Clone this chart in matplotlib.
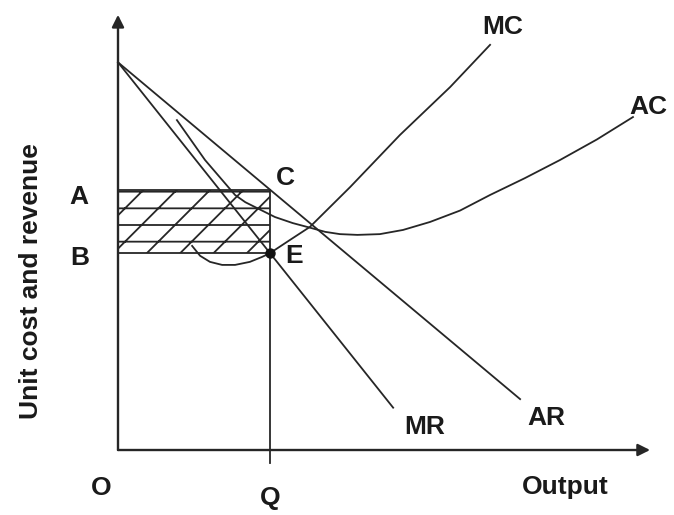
import matplotlib
matplotlib.use("Agg")
import matplotlib.pyplot as plt
from matplotlib.patches import Rectangle

plt.rcParams['font.family'] = ['Liberation Sans', 'DejaVu Sans']
plt.rcParams['hatch.linewidth'] = 1.3

# ---- data (arbitrary units) ----
price_intercept = 10.2          # where AR and MR meet the vertical axis
ar_slope = 0.8375               # AR: y = intercept - slope * x
mr_slope = 1.255                # MR: y = intercept - slope * x
ar_end_x = 10.58
mr_end_x = 7.24

q_output = 4.0                  # equilibrium output Q
price_A = 6.85                  # price OA (point C on AR)
cost_B = 5.18                   # average cost OB / point E

mc_x = [1.95, 2.16, 2.42, 2.74, 3.08, 3.47, 3.79, 4.00, 4.53, 5.05, 6.11, 7.42, 8.74, 9.79]
mc_y = [5.37, 5.11, 4.95, 4.87, 4.87, 4.95, 5.08, 5.18, 5.53, 5.87, 6.92, 8.29, 9.55, 10.66]

ac_x = [1.55, 2.29, 3.08, 3.35, 3.61, 4.13, 4.60, 5.05, 5.45, 5.84, 6.30, 6.89, 7.50, 8.21, 9.00, 9.79, 10.70, 11.63, 12.60, 13.55]
ac_y = [8.68, 7.63, 6.71, 6.52, 6.39, 6.13, 5.97, 5.85, 5.74, 5.68, 5.66, 5.68, 5.79, 6.00, 6.30, 6.71, 7.15, 7.63, 8.17, 8.76]

x_axis_end = 14.0
y_axis_end = 11.45

# ---- figure ----
fig = plt.figure(figsize=(6.74, 5.15), dpi=100)
ax = fig.add_axes([0, 0, 1, 1])
ax.set_xlim(-3.105, 14.63)
ax.set_ylim(-1.71, 11.84)
ax.axis('off')

line_col = '#262626'
lw = 1.3

# hatched profit area
rect = Rectangle((0, cost_B), q_output, price_A - cost_B, facecolor='white',
                 edgecolor=line_col, hatch='/-', linewidth=0, zorder=1)
ax.add_patch(rect)

# axes with arrows
ax.annotate('', xy=(x_axis_end, 0), xytext=(0, 0),
            arrowprops=dict(arrowstyle='-|>', lw=1.7, color=line_col, mutation_scale=18,
                            shrinkA=0, shrinkB=0), zorder=3)
ax.annotate('', xy=(0, y_axis_end), xytext=(0, 0),
            arrowprops=dict(arrowstyle='-|>', lw=1.7, color=line_col, mutation_scale=18,
                            shrinkA=0, shrinkB=0), zorder=3)

# AR and MR
ax.plot([0, ar_end_x], [price_intercept, price_intercept - ar_slope * ar_end_x],
        color=line_col, lw=lw, zorder=4)
ax.plot([0, mr_end_x], [price_intercept, price_intercept - mr_slope * mr_end_x],
        color=line_col, lw=lw, zorder=4)

# MC and AC
ax.plot(mc_x, mc_y, color=line_col, lw=lw, zorder=4, solid_joinstyle='round')
ax.plot(ac_x, ac_y, color=line_col, lw=lw, zorder=4, solid_joinstyle='round')

# A and B lines, Q line
ax.plot([0, q_output], [price_A, price_A], color=line_col, lw=lw, zorder=4)
ax.plot([0, q_output], [cost_B, cost_B], color=line_col, lw=lw, zorder=4)
ax.plot([q_output, q_output], [price_A, -0.33], color=line_col, lw=lw, zorder=4)

# point E
ax.plot([q_output], [cost_B], marker='o', color='#111111', markersize=6.5, zorder=5)

# labels
fs = 19
tkw = dict(fontsize=fs, fontweight='bold', color='#1a1a1a', ha='center', va='center')
ax.text(10.13, 11.13, 'MC', **tkw)
ax.text(13.45, 9.03, 'AC', fontsize=fs, fontweight='bold', color='#1a1a1a', ha='left', va='center')
ax.text(4.40, 7.16, 'C', **tkw)
ax.text(-1.03, 6.66, 'A', **tkw)
ax.text(-1.00, 5.05, 'B', **tkw)
ax.text(4.62, 5.1, 'E', **tkw)
ax.text(8.08, 0.61, 'MR', **tkw)
ax.text(11.26, 0.84, 'AR', **tkw)
ax.text(-0.45, -1.0, 'O', **tkw)
ax.text(4.0, -1.26, 'Q', **tkw)
ax.text(11.76, -0.97, 'Output', **tkw)
ax.text(-2.28, 4.45, 'Unit cost and revenue', rotation=90, **tkw)

fig.savefig('out.png', dpi=100, facecolor='white')
